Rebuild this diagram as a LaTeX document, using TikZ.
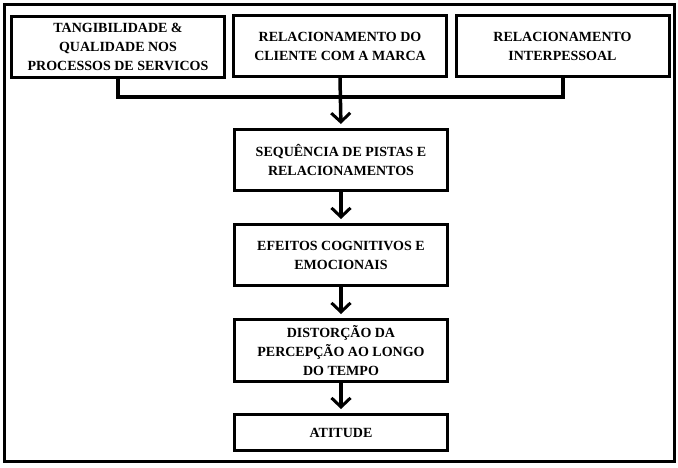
\documentclass[tikz,border=0pt]{standalone}
\usepackage{fontspec}
\setmainfont{Liberation Serif}
\usepackage{xcolor}
\usetikzlibrary{arrows.meta}
\definecolor{ink}{HTML}{000000}
\definecolor{paper}{HTML}{FFFFFF}
\tikzset{
  frame/.style={draw=ink, line width=3pt},
  box/.style={draw=ink, line width=3pt, fill=paper, minimum width=213pt, minimum height=61pt,
    align=center, inner sep=2pt, font=\bfseries\fontsize{14}{19}\selectfont, text=ink},
  link/.style={draw=ink, line width=4pt, line join=miter},
  flow/.style={draw=ink, line width=3.5pt, -{Straight Barb[length=9pt, width=19pt, line width=3pt]}, shorten >=4pt},
}

\begin{document}
\begin{tikzpicture}[x=1pt, y=-1pt]
  \useasboundingbox (0,0) rectangle (678,467);
  \draw[frame] (4.5,4.5) rectangle (674.5,461.5);

  % top row
  \node[box] (tq)  at (118,47)   {TANGIBILIDADE \&\\QUALIDADE NOS\\PROCESSOS DE SERVICOS};
  \node[box] (rcm) at (340,46)   {RELACIONAMENTO DO\\CLIENTE COM A MARCA};
  \node[box] (ri)  at (562.5,46) {RELACIONAMENTO\\INTERPESSOAL};

  % chain
  \node[box] (seq)  at (341,160)   {SEQUÊNCIA DE PISTAS E\\RELACIONAMENTOS};
  \node[box] (efe)  at (341,255)   {EFEITOS COGNITIVOS E\\EMOCIONAIS};
  \node[box, minimum height=62pt] (dist) at (341,350.5) {DISTORÇÃO DA\\PERCEPÇÃO AO LONGO\\DO TEMPO};
  \node[box, minimum height=36pt] (ati)  at (341,432.5) {ATITUDE};

  % connectors
  \coordinate (bus) at (0,97);
  \draw[link] (tq.south) -- (tq.south |- bus) -- (ri.south |- bus) -- (ri.south);
  \draw[flow] (rcm.south) -- (seq.north);
  \draw[flow] (seq) -- (efe);
  \draw[flow] (efe) -- (dist);
  \draw[flow] (dist) -- (ati);
\end{tikzpicture}
\end{document}
